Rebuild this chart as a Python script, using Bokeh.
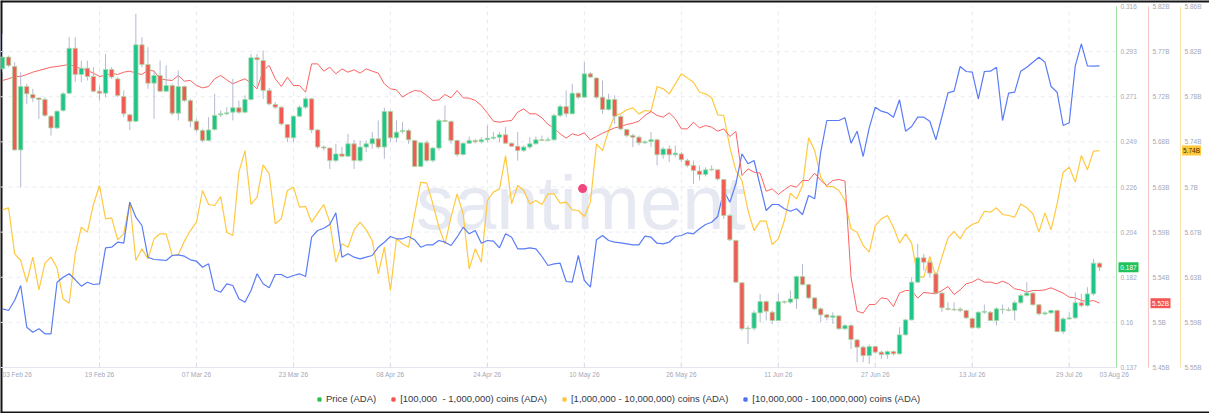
import numpy as np
import pandas as pd
from bokeh.plotting import figure
from bokeh.models import ColumnDataSource, Range1d, Label, Legend, LegendItem
from bokeh.core.properties import value
from bokeh.embed import file_html
from bokeh.resources import INLINE

# ---------------- data ----------------
start_date = "2026-02-03"
n_days = 182

price_open = [
 .2851,.2909,.2863,.2449,.2763,.2724,.2706,.2699,.2616,.2558,
 .2644,.2730,.2953,.2823,.2854,.2813,.2740,.2730,.2848,.2801,
 .2714,.2623,.2591,.2970,.2872,.2780,.2818,.2740,.2768,.2631,
 .2763,.2694,.2591,.2545,.2496,.2550,.2623,.2628,.2636,.2658,
 .2636,.2699,.2906,.2892,.2744,.2674,.2661,.2575,.2509,.2616,
 .2661,.2702,.2548,.2463,.2458,.2396,.2429,.2418,.2479,.2396,
 .2463,.2479,.2504,.2463,.2639,.2509,.2540,.2545,.2496,.2367,
 .2484,.2396,.2458,.2595,.2590,.2496,.2426,.2482,.2496,.2489,
 .2499,.2507,.2512,.2524,.2482,.2467,.2446,.2463,.2479,.2499,
 .2496,.2499,.2620,.2664,.2628,.2730,.2710,.2826,.2805,.2710,
 .2649,.2699,.2615,.2550,.2520,.2512,.2484,.2491,.2499,.2425,
 .2454,.2425,.2429,.2396,.2372,.2344,.2327,.2353,.2350,.2302,
 .2124,.2000,.1790,.1562,.1565,.1641,.1697,.1644,.1603,.1697,
 .1694,.1710,.1821,.1781,.1715,.1661,.1631,.1619,.1626,.1562,
 .1578,.1507,.1471,.1429,.1474,.1446,.1434,.1449,.1438,.1532,
 .1606,.1793,.1914,.1892,.1834,.1739,.1662,.1659,.1659,.1653,
 .1613,.1567,.1644,.1644,.1603,.1659,.1656,.1653,.1691,.1727,
 .1739,.1681,.1636,.1641,.1653,.1548,.1611,.1616,.1691,.1677,
 .1735,.1887]
price_close = [
 .2909,.2868,.2449,.2763,.2727,.2706,.2699,.2620,.2558,.2641,
 .2727,.2953,.2823,.2854,.2813,.2740,.2730,.2848,.2810,.2719,
 .2628,.2591,.2970,.2872,.2780,.2818,.2740,.2768,.2631,.2763,
 .2694,.2591,.2548,.2496,.2548,.2620,.2628,.2633,.2658,.2636,
 .2699,.2906,.2896,.2744,.2677,.2661,.2578,.2509,.2616,.2661,
 .2702,.2548,.2463,.2458,.2396,.2429,.2418,.2479,.2396,.2463,
 .2479,.2504,.2463,.2639,.2509,.2537,.2545,.2499,.2367,.2484,
 .2396,.2458,.2595,.2590,.2496,.2426,.2482,.2496,.2489,.2499,
 .2507,.2512,.2524,.2482,.2467,.2446,.2463,.2479,.2499,.2496,
 .2499,.2620,.2664,.2628,.2730,.2710,.2826,.2810,.2710,.2649,
 .2699,.2616,.2553,.2520,.2512,.2484,.2489,.2499,.2425,.2454,
 .2425,.2433,.2400,.2372,.2347,.2327,.2350,.2350,.2305,.2124,
 .2003,.1793,.1562,.1565,.1641,.1697,.1649,.1603,.1697,.1694,
 .1710,.1821,.1781,.1715,.1661,.1631,.1619,.1626,.1562,.1578,
 .1509,.1471,.1429,.1474,.1446,.1434,.1449,.1438,.1532,.1606,
 .1793,.1914,.1892,.1838,.1739,.1666,.1658,.1656,.1653,.1616,
 .1567,.1644,.1648,.1603,.1661,.1656,.1653,.1691,.1727,.1739,
 .1681,.1636,.1641,.1653,.1548,.1611,.1616,.1691,.1677,.1735,
 .1887,.1867]
price_high = [
 .3025,.2917,.2884,.2834,.2777,.2752,.2710,.2710,.2620,.2644,
 .2735,.3008,.3008,.2892,.2892,.2859,.2768,.2925,.2859,.2810,
 .2744,.2628,.3124,.3008,.2958,.2843,.2892,.2868,.2777,.2843,
 .2768,.2702,.2603,.2553,.2611,.2727,.2644,.2661,.2801,.2694,
 .2719,.2925,.2925,.2942,.2757,.2686,.2664,.2578,.2620,.2669,
 .2710,.2706,.2553,.2471,.2463,.2479,.2463,.2529,.2499,.2496,
 .2496,.2537,.2595,.2658,.2644,.2595,.2587,.2553,.2499,.2487,
 .2496,.2463,.2603,.2669,.2595,.2499,.2487,.2515,.2504,.2512,
 .2570,.2537,.2537,.2562,.2487,.2537,.2471,.2512,.2515,.2520,
 .2512,.2628,.2674,.2744,.2777,.2735,.2884,.2834,.2810,.2793,
 .2727,.2719,.2620,.2553,.2529,.2520,.2496,.2537,.2504,.2463,
 .2471,.2471,.2438,.2405,.2396,.2372,.2363,.2372,.2355,.2305,
 .2132,.2003,.1793,.1578,.1653,.1735,.1702,.1653,.1735,.1702,
 .1752,.1826,.1884,.1785,.1719,.1669,.1636,.1644,.1628,.1586,
 .1586,.1512,.1479,.1484,.1479,.1454,.1454,.1454,.1570,.1611,
 .1818,.1983,.1934,.1901,.1843,.1743,.1694,.1694,.1669,.1656,
 .1616,.1648,.1682,.1649,.1669,.1682,.1669,.1702,.1735,.1793,
 .1743,.1686,.1649,.1656,.1656,.1619,.1644,.1743,.1735,.1768,
 .1909,.1892]
price_low = [
 .2834,.2859,.2446,.2264,.2677,.2686,.2603,.2611,.2520,.2553,
 .2639,.2727,.2785,.2785,.2793,.2735,.2694,.2710,.2801,.2710,
 .2611,.2548,.2587,.2859,.2752,.2603,.2735,.2735,.2620,.2595,
 .2686,.2562,.2537,.2487,.2492,.2545,.2611,.2620,.2595,.2628,
 .2631,.2694,.2760,.2702,.2669,.2653,.2570,.2487,.2487,.2611,
 .2653,.2532,.2454,.2446,.2355,.2388,.2413,.2413,.2355,.2388,
 .2438,.2454,.2454,.2405,.2487,.2487,.2529,.2479,.2363,.2363,
 .2388,.2388,.2446,.2587,.2479,.2416,.2421,.2479,.2482,.2482,
 .2487,.2499,.2487,.2479,.2463,.2396,.2438,.2454,.2476,.2492,
 .2492,.2496,.2611,.2611,.2625,.2702,.2707,.2806,.2702,.2628,
 .2644,.2578,.2545,.2512,.2463,.2471,.2479,.2463,.2372,.2405,
 .2388,.2413,.2388,.2363,.2281,.2297,.2317,.2344,.2297,.2107,
 .1996,.1788,.1553,.1487,.1553,.1595,.1603,.1586,.1600,.1686,
 .1686,.1661,.1777,.1710,.1653,.1595,.1603,.1586,.1557,.1557,
 .1462,.1396,.1396,.1388,.1438,.1413,.1413,.1429,.1434,.1529,
 .1603,.1788,.1851,.1818,.1735,.1644,.1653,.1649,.1644,.1611,
 .1562,.1562,.1636,.1600,.1578,.1636,.1648,.1603,.1686,.1722,
 .1677,.1628,.1628,.1636,.1545,.1537,.1606,.1611,.1669,.1672,
 .1727,.1848]

# [100,000 - 1,000,000) coins, billions
holders_100k_1m = [
 5.7442,5.7459,5.7483,5.7483,5.7503,5.7527,5.7544,5.7561,5.7578,5.7585,
 5.7595,5.7606,5.7585,5.7561,5.7544,5.7517,5.7483,5.7493,5.7517,5.7503,
 5.7527,5.7537,5.7517,5.7503,5.7551,5.7537,5.7459,5.7448,5.7442,5.7493,
 5.7435,5.7442,5.7390,5.7366,5.7380,5.7459,5.7493,5.7448,5.7407,5.7435,
 5.7459,5.7414,5.7356,5.7544,5.7595,5.7459,5.7380,5.7476,5.7390,5.7390,
 5.7322,5.7612,5.7612,5.7537,5.7578,5.7510,5.7561,5.7527,5.7551,5.7517,
 5.7561,5.7537,5.7517,5.7407,5.7356,5.7346,5.7271,5.7312,5.7339,5.7332,
 5.7288,5.7237,5.7243,5.7298,5.7264,5.7339,5.7264,5.7260,5.7237,5.7185,
 5.7107,5.7025,5.7014,5.7025,5.7032,5.7117,5.7151,5.7100,5.7100,5.7059,
 5.6991,5.6956,5.6895,5.6851,5.6895,5.6878,5.6905,5.6833,5.6868,5.6902,
 5.6929,5.6956,5.6970,5.6991,5.7004,5.7025,5.7083,5.7124,5.7083,5.7066,
 5.7110,5.7049,5.6946,5.6946,5.7014,5.6956,5.6980,5.6963,5.6922,5.6946,
 5.6868,5.6919,5.6468,5.6536,5.6502,5.6492,5.6307,5.6331,5.6273,5.6321,
 5.6365,5.6348,5.6417,5.6417,5.6492,5.6417,5.6365,5.6417,5.6427,5.6410,
 5.5426,5.5077,5.5057,5.5146,5.5146,5.5214,5.5204,5.5125,5.5262,5.5289,
 5.5289,5.5211,5.5269,5.5262,5.5255,5.5289,5.5330,5.5248,5.5296,5.5358,
 5.5375,5.5409,5.5375,5.5375,5.5358,5.5385,5.5358,5.5306,5.5296,5.5272,
 5.5289,5.5289,5.5296,5.5317,5.5289,5.5262,5.5221,5.5214,5.5187,5.5176,
 5.5187,5.5159]

# [1,000,000 - 10,000,000) coins, billions
holders_1m_10m = [
 5.6854,5.6871,5.6476,5.6419,5.6233,5.6448,5.6167,5.6396,5.6448,5.6356,
 5.6090,5.6052,5.6476,5.6705,5.6662,5.6900,5.7063,5.6777,5.6785,5.6596,
 5.6648,5.6920,5.6419,5.6519,5.6433,5.6605,5.6648,5.6648,5.6462,5.6468,
 5.6585,5.6676,5.6748,5.7020,5.6900,5.6891,5.6968,5.6662,5.6634,5.7177,
 5.7363,5.6900,5.6963,5.7240,5.7163,5.6734,5.6777,5.7020,5.7049,5.6877,
 5.6883,5.6748,5.6825,5.6900,5.6748,5.6404,5.6562,5.6533,5.6682,5.6748,
 5.6682,5.6591,5.6304,5.6533,5.6161,5.6605,5.6562,5.6533,5.6820,5.7092,
 5.7083,5.6905,5.6705,5.6562,5.6791,5.6991,5.6820,5.6347,5.6519,5.6404,
 5.6934,5.7006,5.7034,5.7320,5.6905,5.7063,5.7020,5.6905,5.6934,5.6900,
 5.6991,5.6991,5.6911,5.6920,5.6854,5.6848,5.6797,5.6920,5.7421,5.7363,
 5.7535,5.7664,5.7678,5.7713,5.7730,5.7678,5.7707,5.7701,5.7913,5.7893,
 5.7850,5.7936,5.8022,5.7987,5.7950,5.7864,5.7850,5.7816,5.7670,5.7664,
 5.7392,5.7192,5.7106,5.6848,5.6676,5.6757,5.6757,5.6556,5.6605,5.6762,
 5.6997,5.6948,5.7063,5.7472,5.7363,5.7134,5.7054,5.7054,5.7020,5.6934,
 5.6691,5.6662,5.6548,5.6490,5.6719,5.6777,5.6805,5.6705,5.6568,5.6648,
 5.6568,5.6281,5.6276,5.6453,5.6276,5.6448,5.6613,5.6668,5.6605,5.6691,
 5.6728,5.6748,5.6842,5.6834,5.6871,5.6814,5.6805,5.6791,5.6905,5.6871,
 5.6820,5.6662,5.6828,5.6682,5.6905,5.7177,5.7220,5.7092,5.7320,5.7197,
 5.7358,5.7363]

# [10,000,000 - 100,000,000) coins, billions
holders_10m_100m = [
 9.3237,9.3220,9.3320,9.3470,9.3053,9.3003,9.3037,9.2987,9.2987,9.3503,
 9.3553,9.3587,9.3527,9.3463,9.3503,9.3480,9.3487,9.3847,9.3853,9.3903,
 9.3893,9.4303,9.4153,9.4070,9.3753,9.3730,9.3727,9.3720,9.3770,9.3777,
 9.3763,9.3727,9.3713,9.3653,9.3687,9.3427,9.3403,9.3487,9.3470,9.3337,
 9.3303,9.3420,9.3587,9.3487,9.3447,9.3580,9.3580,9.3547,9.3570,9.3587,
 9.3560,9.3953,9.4020,9.4043,9.4080,9.4197,9.3753,9.3787,9.3753,9.3737,
 9.3753,9.3770,9.3853,9.3903,9.3960,9.3937,9.3937,9.3960,9.3927,9.3853,
 9.3877,9.3877,9.3920,9.3903,9.3870,9.3953,9.4053,9.3987,9.4020,9.3893,
 9.3920,9.3913,9.3847,9.3987,9.3953,9.3837,9.3837,9.3847,9.3837,9.3760,
 9.3670,9.3687,9.3693,9.3510,9.3503,9.3770,9.3520,9.3453,9.3927,9.3970,
 9.3920,9.3903,9.3897,9.3887,9.3877,9.3877,9.3963,9.3953,9.3893,9.3887,
 9.3903,9.3960,9.3970,9.3997,9.3987,9.4037,9.4080,9.4103,9.4160,9.4420,
 9.4303,9.4487,9.4787,9.4687,9.4720,9.4470,9.4220,9.4280,9.4280,9.4237,
 9.4213,9.4237,9.4180,9.4370,9.4337,9.4803,9.5120,9.5120,9.5120,9.5147,
 9.4893,9.5013,9.4760,9.5047,9.5253,9.5213,9.5197,9.5153,9.5327,9.5013,
 9.5060,9.5153,9.5153,9.5113,9.4927,9.5160,9.5397,9.5413,9.5660,9.5610,
 9.5603,9.5337,9.5610,9.5613,9.5653,9.5120,9.5393,9.5403,9.5613,9.5653,
 9.5703,9.5753,9.5703,9.5460,9.5403,9.5070,9.5097,9.5667,9.5887,9.5667,
 9.5663,9.5667]

# highlighted event marker
event_time = ["2026-05-09 17:00"]
event_price = [0.2257]

# axis ticks / labels
x_tick_dates = ["2026-02-19", "2026-03-07", "2026-03-23", "2026-04-08", "2026-04-24", "2026-05-10",
                "2026-05-26", "2026-06-11", "2026-06-27", "2026-07-13", "2026-07-29"]
price_tick_labels = ["0.137", "0.16", "0.182", "0.204", "0.226", "0.249", "0.271", "0.293", "0.316"]
red_tick_labels = ["5.45B", "5.5B", "5.54B", "5.59B", "5.63B", "5.68B", "5.72B", "5.77B", "5.82B"]
yellow_tick_labels = ["5.55B", "5.59B", "5.63B", "5.67B", "5.7B", "5.74B", "5.78B", "5.82B", "5.86B"]
price_range = (0.137, 0.316)
red_range = (5.45, 5.82)
yellow_range = (5.55, 5.86)
blue_range = (9.265, 9.626)

series_names = ["Price (ADA)", "[100,000  - 1,000,000) coins (ADA)",
                "[1,000,000 - 10,000,000) coins (ADA)", "[10,000,000 - 100,000,000) coins (ADA)"]

# ---------------- styles / layout ----------------
GREEN = "#1fc48c"
RED_C = "#f25b55"
RED_L = "#fa6262"
YELLOW = "#ffc93f"
BLUE = "#5a7cf6"
TICK_TXT = "#a2a8ba"
GRID = "#e8eaf2"
FONT = "Liberation Sans"
DAY = 86400000.0

W, H = 1209, 413                    # canvas
PL, PR, PT, PB = 0, 1116, 6, 367    # plot area inside the canvas (px)

dates = pd.date_range(start_date, periods=n_days, freq="D")
o = np.array(price_open); c = np.array(price_close)
src = ColumnDataSource(dict(
    date=dates, open=o, close=c, high=price_high, low=price_low,
    top=np.maximum(o, c), bottom=np.minimum(o, c),
    color=np.where(c >= o, GREEN, RED_C),
    red=holders_100k_1m, yellow=holders_1m_10m, blue=holders_10m_100m))

x0ms = (dates[0] - pd.Timedelta(hours=8)).timestamp() * 1000
x1ms = (dates[0] + pd.Timedelta(days=183.8)).timestamp() * 1000
ms_px = (x1ms - x0ms) / (PR - PL)

def xpx(px):
    return x0ms + (px - PL) * ms_px

def ext_range(rng):
    lo, hi = rng
    u = (hi - lo) / (PB - PT)
    return Range1d(lo - (H - PB) * u, hi + PT * u)

def upx(rng):
    return (rng[1] - rng[0]) / (PB - PT)

p = figure(width=W, height=H, x_range=Range1d(xpx(0), xpx(W)), y_range=ext_range(price_range),
           x_axis_location=None, y_axis_location=None,
           output_backend="svg", toolbar_location=None,
           min_border_left=0, min_border_right=0, min_border_top=0, min_border_bottom=0)
p.grid.visible = False
p.outline_line_color = None
p.background_fill_color = "white"
p.border_fill_color = "white"
p.extra_y_ranges = {"red": ext_range(red_range), "yellow": ext_range(yellow_range),
                    "blue": ext_range(blue_range)}

def ticks_for(rng, n):
    return [float(v) for v in np.linspace(rng[0], rng[1], n)]

price_ticks = ticks_for(price_range, len(price_tick_labels))
red_ticks = ticks_for(red_range, len(red_tick_labels))
yellow_ticks = ticks_for(yellow_range, len(yellow_tick_labels))
xt = [pd.Timestamp(d).timestamp() * 1000 for d in x_tick_dates]
lo, hi = price_range
u = upx(price_range)
yr = p.y_range

# card edge (top, left, bottom)
p.segment(x0=[xpx(0), xpx(0), xpx(0)], x1=[xpx(W), xpx(0), xpx(W)],
          y0=[yr.end, yr.start, yr.start], y1=[yr.end, yr.end, yr.start],
          color="#141414", line_width=4)

# grid
hg = price_ticks[1:-1]
p.segment(x0=[x0ms] * len(hg), x1=[x1ms] * len(hg), y0=hg, y1=hg,
          color=GRID, line_width=1, line_dash="4 4")
p.segment(x0=xt, x1=xt, y0=[lo] * len(xt), y1=[hi] * len(xt),
          color=GRID, line_width=1, line_dash="4 4")

# watermark
p.add_layout(Label(x=x0ms + 0.52 * (x1ms - x0ms), y=lo + 0.457 * (hi - lo),
                   text="santiment", text_font=FONT, text_font_size="76px",
                   text_color="#e7e9f2", text_align="center", text_baseline="alphabetic",
                   level="underlay"))

# x axis line, ticks, labels
p.segment(x0=[x0ms], x1=[x1ms], y0=[lo], y1=[lo], color="#e3e6ee", line_width=1)
p.segment(x0=xt, x1=xt, y0=[lo] * len(xt), y1=[lo + 5 * u] * len(xt), color="#d9dce6", line_width=1)
txt = dict(text_font=value(FONT), text_font_size=value("6.5px"), text_color=TICK_TXT)
p.text(x=xt, y=[lo - 3.5 * u] * len(xt), text=[pd.Timestamp(d).strftime("%d %b %y") for d in x_tick_dates],
       text_align="center", text_baseline="top", **txt)
p.text(x=[dates[0], dates[-1]], y=[lo - 3.5 * u] * 2,
       text=[dates[0].strftime("%d %b %y"), dates[-1].strftime("%d %b %y")],
       text_align="left", text_baseline="top", **txt)

# right-hand value axes
axes = [(None, price_range, price_ticks, price_tick_labels, "#9fe2a3", 0),
        ("red", red_range, red_ticks, red_tick_labels, "#f9c4c4", 32),
        ("yellow", yellow_range, yellow_ticks, yellow_tick_labels, "#fbe2a6", 64)]
for rname, rng, tks, lbls, lcol, off in axes:
    kw = {} if rname is None else {"y_range_name": rname}
    ax_x = xpx(PR + off)
    p.segment(x0=[ax_x], x1=[ax_x], y0=[rng[0]], y1=[rng[1]], color=lcol, line_width=1, **kw)
    p.text(x=[xpx(PR + off + 4)] * len(tks), y=tks, text=lbls,
           text_align="left", text_baseline="middle", **txt, **kw)

# lines
p.line("date", "yellow", source=src, y_range_name="yellow", color=YELLOW, line_width=1.2)
p.line("date", "blue", source=src, y_range_name="blue", color=BLUE, line_width=1.2)
p.line("date", "red", source=src, y_range_name="red", color=RED_L, line_width=1.0)

# candles
p.segment("date", "low", "date", "high", source=src, color="#b4b9d2", line_width=1)
p.vbar(x="date", width=0.72 * DAY, top="top", bottom="bottom", source=src,
       fill_color="color", line_color="#a8d9a4", line_width=0.8)

# event marker
p.scatter(pd.to_datetime(event_time), event_price, size=9, color="#f0467b", line_color=None)

# last value tags
tags = [(None, price_close[-1], f"{price_close[-1]:.3f}", "#22c25a", "white", 12, 20),
        ("red", holders_100k_1m[-1], f"{holders_100k_1m[-1]:.2f}B", "#f45656", "white", 44, 20),
        ("yellow", holders_1m_10m[-1], f"{holders_1m_10m[-1]:.2f}B", "#ffc83d", "#3d3000", 75, 19)]
for rname, yv, label, bg, fg, cx, w in tags:
    kw = {} if rname is None else {"y_range_name": rname}
    p.rect(x=[xpx(PR + cx)], y=[yv], width=w, height=10, width_units="screen",
           height_units="screen", fill_color=bg, line_color=None, **kw)
    p.text(x=[xpx(PR + cx)], y=[yv], text=[label], text_align="center", text_baseline="middle",
           text_font=value(FONT), text_font_size=value("6.5px"), text_color=fg, **kw)

# legend (proxy renderers hold no visible points)
legend_colors = ["#2cc24f", "#f25555", "#ffc53d", "#4f6ff5"]
items = []
for name, col in zip(series_names, legend_colors):
    r = p.scatter(x=[dates[0]], y=[np.nan], marker="square", size=8, color=col)
    items.append(LegendItem(label=name, renderers=[r]))
legend = Legend(items=items, orientation="horizontal", location=(315, 9),
                border_line_color=None, background_fill_alpha=0,
                label_text_font=FONT, label_text_font_size="9.5px", label_text_color="#33363f",
                glyph_width=8, glyph_height=8, label_height=10, label_standoff=3,
                spacing=13, padding=3, margin=0)
p.add_layout(legend, "center")

open("out.html", "w").write(file_html(p, INLINE))
